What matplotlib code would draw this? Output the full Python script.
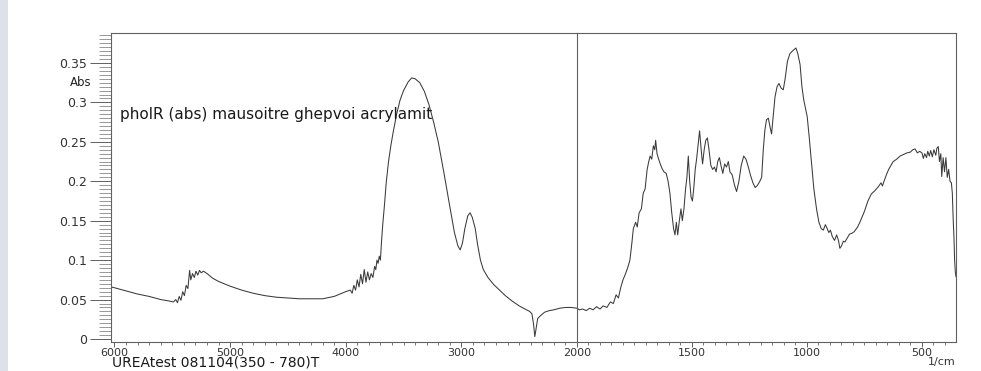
import matplotlib
matplotlib.use("Agg")
import matplotlib.pyplot as plt
from matplotlib.ticker import MultipleLocator, FixedLocator
from matplotlib.patches import Rectangle

# ---------------- data ----------------
wn_left = [6030, 6000, 5900, 5800, 5700, 5600, 5520, 5490, 5470, 5455, 5440, 5425,
           5410, 5395, 5380, 5365, 5350, 5340, 5325, 5310, 5295, 5280, 5265, 5250,
           5230, 5200, 5150, 5100, 5000, 4900, 4800, 4700, 4600, 4500, 4400, 4300,
           4200, 4100, 4050, 4000, 3960, 3945, 3930, 3915, 3900, 3885, 3870, 3855,
           3840, 3825, 3810, 3795, 3780, 3765, 3750, 3740, 3730, 3720, 3710, 3700,
           3690, 3680, 3665, 3650, 3630, 3610, 3590, 3560, 3530, 3500, 3460, 3430,
           3400, 3360, 3320, 3280, 3240, 3200, 3150, 3100, 3060, 3030, 3010, 2990,
           2970, 2945, 2925, 2905, 2880, 2860, 2835, 2810, 2770, 2720, 2670, 2620,
           2560, 2500, 2450, 2410, 2390, 2375, 2365, 2355, 2340, 2320, 2280, 2240,
           2200, 2150, 2100, 2050, 2000]
abs_left = [0.066, 0.065, 0.061, 0.057, 0.054, 0.050, 0.048, 0.047, 0.050, 0.046, 0.054, 0.049,
            0.060, 0.055, 0.068, 0.064, 0.087, 0.075, 0.083, 0.078, 0.086, 0.081, 0.087, 0.084,
            0.086, 0.083, 0.077, 0.073, 0.067, 0.062, 0.058, 0.055, 0.053, 0.052, 0.051, 0.051,
            0.051, 0.054, 0.057, 0.060, 0.062, 0.058, 0.068, 0.062, 0.075, 0.066, 0.082, 0.070,
            0.088, 0.072, 0.085, 0.075, 0.083, 0.078, 0.092, 0.088, 0.100, 0.096, 0.105, 0.100,
            0.125, 0.145, 0.170, 0.198, 0.225, 0.245, 0.262, 0.285, 0.303, 0.315, 0.326, 0.331,
            0.330, 0.325, 0.314, 0.297, 0.275, 0.250, 0.210, 0.168, 0.135, 0.118, 0.113, 0.122,
            0.140, 0.156, 0.160, 0.154, 0.140, 0.120, 0.100, 0.088, 0.078, 0.069, 0.062, 0.055,
            0.048, 0.042, 0.038, 0.035, 0.032, 0.018, 0.003, 0.012, 0.026, 0.029, 0.034, 0.036,
            0.037, 0.039, 0.040, 0.040, 0.039]

wn_right = [2000, 1990, 1975, 1960, 1945, 1930, 1915, 1900, 1886, 1870, 1855, 1842,
            1830, 1820, 1810, 1800, 1790, 1780, 1770, 1762, 1755, 1745, 1738, 1730,
            1720, 1712, 1704, 1695, 1688, 1682, 1675, 1668, 1662, 1658, 1652, 1645,
            1638, 1630, 1622, 1612, 1604, 1596, 1588, 1580, 1574, 1568, 1562, 1555,
            1548, 1542, 1535, 1528, 1522, 1516, 1510, 1504, 1498, 1492, 1486, 1480,
            1474, 1467, 1460, 1454, 1447, 1440, 1433, 1426, 1418, 1410, 1402, 1395,
            1388, 1381, 1374, 1366, 1358, 1350, 1342, 1335, 1325, 1315, 1306, 1296,
            1286, 1275, 1265, 1255, 1245, 1235, 1225, 1215, 1205, 1197, 1190, 1183,
            1176, 1168, 1160, 1154, 1146, 1139, 1130, 1122, 1112, 1103, 1095, 1085,
            1074, 1060, 1048, 1040, 1030, 1022, 1014, 1005, 999, 990, 980, 970,
            958, 948, 938, 929, 920, 912, 905, 898, 890, 880, 871, 863,
            857, 850, 842, 835, 825, 815, 805, 795, 780, 770, 750, 735,
            720, 705, 690, 678, 672, 665, 655, 645, 635, 625, 610, 595,
            580, 565, 550, 540, 530, 520, 510, 500, 494, 488, 480, 475,
            468, 462, 455, 448, 440, 435, 429, 424, 418, 414, 408, 402,
            396, 390, 384, 378, 372, 368, 364, 361, 358, 355, 352]
abs_right = [0.039, 0.037, 0.038, 0.036, 0.039, 0.037, 0.041, 0.038, 0.042, 0.040, 0.047, 0.045,
             0.056, 0.052, 0.065, 0.075, 0.082, 0.090, 0.100, 0.120, 0.140, 0.148, 0.142, 0.160,
             0.165, 0.185, 0.190, 0.215, 0.225, 0.232, 0.228, 0.245, 0.240, 0.252, 0.235, 0.228,
             0.222, 0.216, 0.212, 0.210, 0.200, 0.185, 0.160, 0.140, 0.132, 0.148, 0.132, 0.150,
             0.165, 0.150, 0.165, 0.190, 0.205, 0.232, 0.200, 0.180, 0.175, 0.192, 0.215, 0.228,
             0.245, 0.264, 0.240, 0.222, 0.240, 0.252, 0.255, 0.240, 0.220, 0.215, 0.218, 0.212,
             0.225, 0.230, 0.220, 0.210, 0.222, 0.218, 0.225, 0.212, 0.208, 0.195, 0.187, 0.200,
             0.220, 0.232, 0.228, 0.218, 0.207, 0.198, 0.192, 0.195, 0.200, 0.205, 0.240, 0.265,
             0.278, 0.280, 0.268, 0.260, 0.285, 0.307, 0.320, 0.324, 0.318, 0.316, 0.330, 0.352,
             0.362, 0.366, 0.369, 0.362, 0.348, 0.320, 0.303, 0.290, 0.282, 0.255, 0.223, 0.190,
             0.164, 0.148, 0.140, 0.138, 0.145, 0.140, 0.135, 0.138, 0.130, 0.125, 0.132, 0.125,
             0.115, 0.118, 0.124, 0.123, 0.128, 0.133, 0.134, 0.136, 0.142, 0.148, 0.162, 0.175,
             0.184, 0.188, 0.193, 0.198, 0.194, 0.200, 0.208, 0.215, 0.220, 0.225, 0.228, 0.232,
             0.234, 0.236, 0.237, 0.240, 0.241, 0.236, 0.238, 0.236, 0.229, 0.235, 0.230, 0.238,
             0.232, 0.239, 0.231, 0.240, 0.233, 0.242, 0.244, 0.225, 0.235, 0.206, 0.230, 0.212,
             0.230, 0.205, 0.215, 0.200, 0.198, 0.185, 0.150, 0.130, 0.100, 0.085, 0.079]

y_ticks = [0, 0.05, 0.1, 0.15, 0.2, 0.25, 0.3, 0.35]
y_ticklabels = ["0", "0.05", "0.1", "0.15", "0.2", "0.25", "0.3", "0.35"]
x_ticks_left = [6000, 5000, 4000, 3000]
x_ticks_right = [2000, 1500, 1000, 500]
title_text = "pholR (abs) mausoitre ghepvoi acrylamit"
y_unit = "Abs"
x_unit = "1/cm"
footer_text = "UREAtest 081104(350 - 780)T"

# ---------------- figure ----------------
W, H = 981, 371
fig = plt.figure(figsize=(W / 100, H / 100), dpi=100)
fig.patch.set_facecolor("white")

# scanner edge strip
fig.add_artist(Rectangle((0, 0), 8 / W, 1, transform=fig.transFigure,
                         facecolor="#dde2ea", edgecolor="none", zorder=0))

ax_l_px, ax_mid_px, ax_r_px = 111, 577, 956
top_px, bot_px = 33, 342

def fx(p):
    return p / W

def fy(p):
    return 1 - p / H

b = fy(bot_px)
h = fy(top_px) - b
axL = fig.add_axes([fx(ax_l_px), b, fx(ax_mid_px) - fx(ax_l_px), h])
axR = fig.add_axes([fx(ax_mid_px), b, fx(ax_r_px) - fx(ax_mid_px), h])

ylo, yhi = -0.0038, 0.388
line_kw = dict(color="#3a3a3a", lw=0.75)
axL.plot(wn_left, abs_left, **line_kw)
axR.plot(wn_right, abs_right, **line_kw)

axL.set_xlim(6030, 2000)
axR.set_xlim(2000, 352)
for ax in (axL, axR):
    ax.set_ylim(ylo, yhi)
    ax.set_facecolor("none")
    for s in ax.spines.values():
        s.set_color("#606060")
        s.set_linewidth(0.8)
    ax.tick_params(axis="x", which="major", direction="out", length=3.5, width=0.7,
                   color="#606060", labelsize=8, labelcolor="#333333", pad=0.5)
    ax.tick_params(axis="x", which="minor", direction="out", length=2.2, width=0.6,
                   color="#606060")

axL.spines["right"].set_visible(False)

axL.xaxis.set_major_locator(FixedLocator(x_ticks_left))
axL.xaxis.set_minor_locator(MultipleLocator(100))
axR.xaxis.set_major_locator(FixedLocator(x_ticks_right))
axR.xaxis.set_minor_locator(MultipleLocator(50))

axL.yaxis.set_major_locator(FixedLocator(y_ticks))
axL.set_yticklabels(y_ticklabels)
axL.yaxis.set_minor_locator(MultipleLocator(0.005))
axL.tick_params(axis="y", which="major", direction="out", length=15, width=0.7,
                color="#606060", labelsize=9, labelcolor="#333333", pad=2)
axL.tick_params(axis="y", which="minor", direction="out", length=9, width=0.5,
                color="#707070")
axR.tick_params(axis="y", which="both", left=False, labelleft=False)

for ax in (axL, axR):
    for lab in ax.get_xticklabels() + ax.get_yticklabels():
        lab.set_family("DejaVu Sans")

fig.text(fx(92), fy(83), y_unit, ha="right", va="center", fontsize=8.5,
         color="#222222", family="DejaVu Sans")
fig.text(fx(120), fy(114), title_text, ha="left", va="center", fontsize=11,
         color="#1a1a1a", family="DejaVu Sans")
fig.text(fx(112), fy(363), footer_text, ha="left", va="center", fontsize=10,
         color="#1a1a1a", family="DejaVu Sans")
fig.text(fx(956), fy(362), x_unit, ha="right", va="center", fontsize=8,
         color="#333333", family="DejaVu Sans")

fig.savefig("out.png", dpi=100)
